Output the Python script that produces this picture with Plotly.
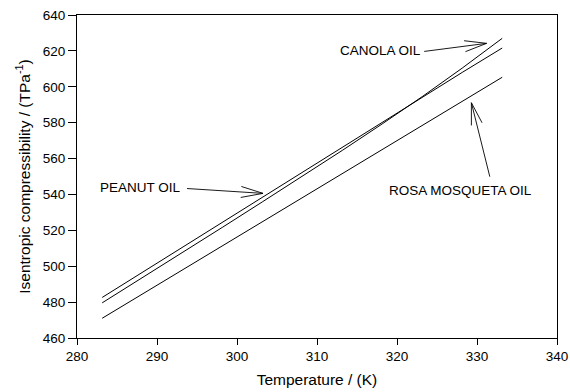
import numpy as np
import plotly.graph_objects as go

# ---- data ----
peanut_T = [283.15, 287.45, 287.95, 293.15, 298.15, 303.15, 308.15, 313.15, 318.15, 323.15, 328.15, 333.15]
peanut_K = [482.6, 494.6, 496.2, 510.5, 524.5, 538.4, 552.3, 566.2, 580.2, 594.1, 608.0, 621.6]

canola_T = [283.15, 288.15, 293.15, 298.15, 303.15, 308.15, 313.15, 318.15, 323.15, 328.15, 333.15]
canola_K = [479.6, 493.5, 507.6, 521.6, 535.8, 550.0, 564.5, 579.3, 594.5, 610.4, 627.0]

rosa_T = [283.15, 287.55, 288.05, 293.15, 298.15, 303.15, 308.15, 313.15, 318.15, 323.15, 328.15, 333.15]
rosa_K = [471.0, 482.8, 484.1, 497.7, 511.1, 524.6, 538.0, 551.5, 564.9, 578.4, 591.8, 605.3]

x_ticks = [280, 290, 300, 310, 320, 330, 340]
y_ticks = [460, 480, 500, 520, 540, 560, 580, 600, 620, 640]

# label / arrow anchors (data coords): text pos, anchor, arrow tail, arrow tip
labels = [
    ("PEANUT OIL", (293.2, 543.6), "right", (293.75, 543.3), (303.25, 540.6)),
    ("CANOLA OIL", (323.2, 620.4), "right", (323.4, 619.7), (331.2, 624.2)),
    ("ROSA MOSQUETA OIL", (327.97, 542.1), "center", (331.6, 549.9), (329.3, 591.1)),
]

W, H = 570, 392
ML, MR, MT, MB = 77, 13, 15, 54
XR = [280, 340]
YR = [460, 640]
px_x = (W - ML - MR) / (XR[1] - XR[0])
px_y = (H - MT - MB) / (YR[1] - YR[0])

FONT = "Arial, Liberation Sans, sans-serif"

fig = go.Figure()
for T, K in [(peanut_T, peanut_K), (canola_T, canola_K), (rosa_T, rosa_K)]:
    fig.add_trace(go.Scatter(x=T, y=K, mode="lines", line=dict(color="black", width=1),
                             showlegend=False, hoverinfo="skip"))

shapes = []
annotations = []
HEAD_L, HEAD_W = 22, 5.5
for text, tpos, anchor, tail, tip in labels:
    annotations.append(dict(x=tpos[0], y=tpos[1], xref="x", yref="y", text=text,
                            showarrow=False, xanchor=anchor, yanchor="middle",
                            font=dict(family=FONT, size=13.5, color="black")))
    dx = (tip[0] - tail[0]) * px_x
    dy = (tip[1] - tail[1]) * px_y
    n = np.hypot(dx, dy)
    ux, uy = dx / n, dy / n
    vx, vy = -uy, ux
    b1 = (tip[0] + (-HEAD_L * ux + HEAD_W * vx) / px_x, tip[1] + (-HEAD_L * uy + HEAD_W * vy) / px_y)
    b2 = (tip[0] + (-HEAD_L * ux - HEAD_W * vx) / px_x, tip[1] + (-HEAD_L * uy - HEAD_W * vy) / px_y)
    path = (f"M {tail[0]},{tail[1]} L {tip[0]},{tip[1]} "
            f"M {b1[0]},{b1[1]} L {tip[0]},{tip[1]} L {b2[0]},{b2[1]}")
    shapes.append(dict(type="path", xref="x", yref="y", path=path,
                       line=dict(color="black", width=0.9)))

axis_common = dict(showgrid=False, zeroline=False, showline=True, linecolor="black",
                   linewidth=1, mirror=True, ticks="outside", tickcolor="black",
                   tickwidth=1, tickfont=dict(family=FONT, size=13.5, color="black"))

fig.update_layout(
    width=W, height=H,
    margin=dict(l=ML, r=MR, t=MT, b=MB, autoexpand=False),
    paper_bgcolor="white", plot_bgcolor="white",
    xaxis=dict(range=XR, tickvals=x_ticks, ticklen=6,
               title=dict(text="Temperature / (K)", font=dict(family=FONT, size=15.5, color="black"), standoff=10),
               **axis_common),
    yaxis=dict(range=YR, tickvals=y_ticks, ticklen=8,
               title=dict(text="Isentropic compressibility / (TPa<sup>-1</sup>)",
                          font=dict(family=FONT, size=15.5, color="black"), standoff=8),
               **axis_common),
    shapes=shapes,
    annotations=annotations,
)

fig.write_html("out.html")
